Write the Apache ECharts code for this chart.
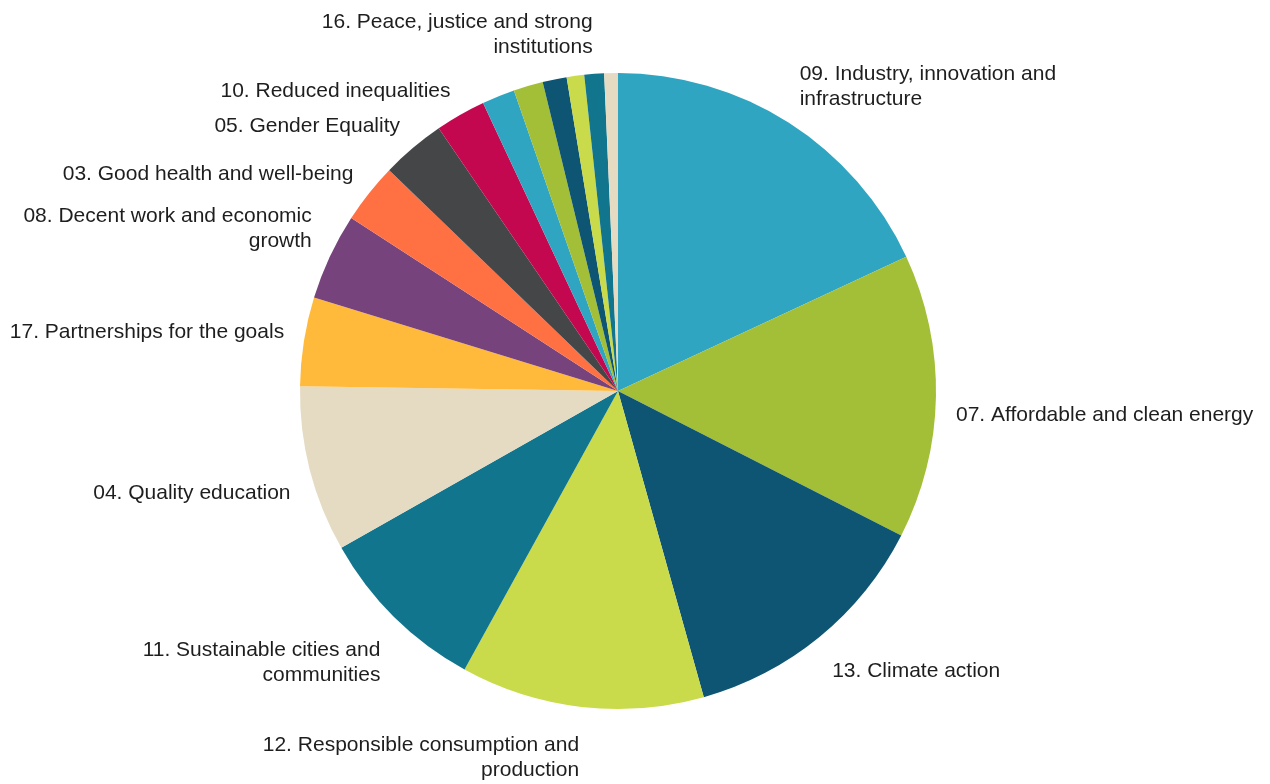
<!DOCTYPE html>
<html>
<head>
<meta charset="utf-8">
<script src="https://cdn.jsdelivr.net/npm/echarts@6/dist/echarts.min.js"></script>
<style>
html,body{margin:0;padding:0;background:#fff;}
#chart{width:1270px;height:784px;}
</style>
</head>
<body>
<div id="chart"></div>
<script>
var categories = [
  '09. Industry, innovation and\ninfrastructure',
  '07. Affordable and clean energy',
  '13. Climate action',
  '12. Responsible consumption and\nproduction',
  '11. Sustainable cities and\ncommunities',
  '04. Quality education',
  '17. Partnerships for the goals',
  '08. Decent work and economic\ngrowth',
  '03. Good health and well-being',
  '05. Gender Equality',
  '10. Reduced inequalities',
  '06. Clean water and sanitation',
  '15. Life on land',
  '14. Life below water',
  '02. Zero hunger',
  '16. Peace, justice and strong\ninstitutions',
  '01. No poverty'
];
var values = [65, 52, 47.3, 44.5, 31.6, 30.4, 16.2, 15.9, 11, 11.7, 9.2, 6, 5.4, 4.4, 3.2, 3.6, 2.5];
var showLabel = [true, true, true, true, true, true, true, true, true, true, true, false, false, false, false, true, false];
var colors = ['#2fa5c1', '#a2bf37', '#0d5572', '#c9db4a', '#10758d', '#e4dbc2', '#ffb93b', '#77437d', '#ff7043', '#454648', '#c4084f',
              '#2fa5c1', '#a2bf37', '#0d5572', '#c9db4a', '#10758d', '#e4dbc2'];

var CX = 618, CY = 391, R = 318, GAP = 20, TEXT_SHIFT = 6;

var data = categories.map(function (c, i) {
  return {
    name: c,
    value: values[i],
    itemStyle: { color: colors[i] },
    label: { show: showLabel[i] }
  };
});

// mid-angle of each slice (clockwise from 12 o'clock), derived from the values
var total = values.reduce(function (a, b) { return a + b; }, 0);
var midAngles = [];
(function () {
  var acc = 0;
  for (var i = 0; i < values.length; i++) {
    midAngles.push((acc + values[i] / 2) / total * 2 * Math.PI);
    acc += values[i];
  }
})();

var chart = echarts.init(document.getElementById('chart'));
chart.setOption({
  animation: false,
  series: [{
    type: 'pie',
    center: [CX, CY],
    radius: R,
    startAngle: 90,
    clockwise: true,
    data: data,
    label: {
      position: 'outside',
      formatter: '{b}',
      overflow: 'none',
      fontFamily: 'Liberation Sans, Arial, sans-serif',
      fontSize: 21,
      lineHeight: 25,
      color: '#1e1e1e'
    },
    labelLine: { show: false },
    labelLayout: function (params) {
      var a = midAngles[params.dataIndex];
      var s = Math.sin(a), c = Math.cos(a);
      return {
        x: CX + (R + GAP) * s,
        y: CY - (R + GAP) * c + TEXT_SHIFT,
        align: s >= 0 ? 'left' : 'right',
        verticalAlign: c >= 0 ? 'bottom' : 'top'
      };
    },
    itemStyle: { borderWidth: 0 },
    emphasis: { disabled: true }
  }]
});
</script>
</body>
</html>
